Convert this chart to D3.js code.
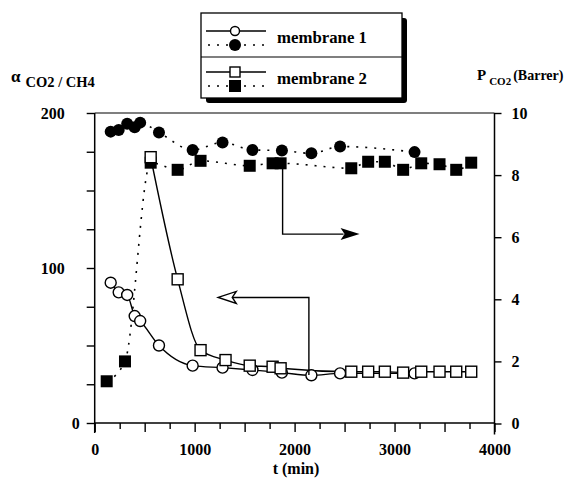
<!DOCTYPE html>
<html><head><meta charset="utf-8">
<script src="https://cdn.jsdelivr.net/npm/d3@7"></script>
<style>
body{margin:0;background:#fff;}
</style></head><body>
<svg id="chart" width="567" height="478"></svg>
<script>
// ---- data ----
const m1Time  = [160,240,325,400,455,643,980,1279,1578,1873,2168,2455,3200];
const m1Alpha = [90.5,84.3,82.6,69,65.8,50,37,35.7,34.2,32.5,30.8,32,32];
const m1Perm  = [9.40,9.45,9.65,9.54,9.69,9.37,8.81,9.05,8.81,8.79,8.70,8.92,8.74];
const m2Time  = [120,303,560,830,1059,1309,1551,1780,1860,2567,2736,2903,3086,3267,3450,3617,3767];
const m2Alpha = [null,null,171.5,92.7,47,40.6,37,36.3,35.3,33.1,33.1,33.1,32.5,33.1,33.1,33.1,33.1];
const m2Perm  = [1.36,2.0,8.4,8.17,8.46,null,8.30,8.38,8.38,8.22,8.43,8.43,8.17,8.38,8.35,8.17,8.40];
const xTickValues = [0,250,500,750,1000,1250,1500,1750,2000,2250,2500,2750,3000,3250,3500,3750,4000];
const xTickLabels = [0,1000,2000,3000,4000];
const alphaTickValues = [0,25,50,75,100,125,150,175,200];
const alphaTickLabels = [0,100,200];
const permTickValues = [0,2,4,6,8,10];
const seriesNames = ["membrane 1","membrane 2"];
// annotation arrows (data coords)
const arrowToPerm  = [[1880,8.3],[1880,6.1],[2650,6.1]];   // t, P
const arrowToAlpha = [[2143,31],[2143,81],[1236,81]];      // t, alpha

const FONT = "'Liberation Serif','Times New Roman','DejaVu Serif',serif";
const svg = d3.select("#chart");
const x  = d3.scaleLinear([0,4000],[94.7,494.5]);
const yL = d3.scaleLinear([0,200],[423,113]);
const yR = d3.scaleLinear([0,10],[423.5,113]);
const FS = 16;

// ---- axes ----
const axL = svg.append("g").attr("transform",`translate(${x(0)},0)`)
  .call(d3.axisLeft(yL).tickValues(alphaTickValues)
        .tickFormat(d=>alphaTickLabels.includes(d)?d:"").tickSize(8).tickSizeOuter(0).tickPadding(22));
const axR = svg.append("g").attr("transform",`translate(${x(4000)},0)`)
  .call(d3.axisRight(yR).tickValues(permTickValues).tickSize(7).tickSizeOuter(0).tickPadding(10));
const axB = svg.append("g").attr("transform",`translate(0,${yL(0)})`)
  .call(d3.axisBottom(x).tickValues(xTickValues)
        .tickFormat(d=>xTickLabels.includes(d)?d:"").tickSize(9).tickSizeOuter(0).tickPadding(9));
[axL,axR,axB].forEach(g=>{
  g.attr("font-family",FONT).attr("font-size",FS).attr("font-weight","bold");
  g.select(".domain").remove();
  g.selectAll("line").attr("stroke","#000").attr("stroke-width",1.4);
  g.selectAll("text").attr("fill","#000");
});
axB.selectAll(".tick").filter(d=>d%500!==0).select("line").attr("y2",6);
axB.selectAll(".tick text").attr("dy","0.85em");
axL.selectAll(".tick").filter(d=>d===0).select("text").attr("x",-15);

// frame lines
const frame = svg.append("g").attr("stroke","#000").attr("stroke-width",1.5);
frame.append("line").attr("x1",x(0)).attr("x2",x(0)).attr("y1",yL(200)).attr("y2",yL(0)+10);
frame.append("line").attr("x1",x(4000)).attr("x2",x(4000)).attr("y1",yR(10)).attr("y2",yR(0)+11);
frame.append("line").attr("x1",x(0)).attr("x2",x(4000)).attr("y1",yL(0)).attr("y2",yL(0));
frame.append("line").attr("x1",x(0)).attr("x2",x(4000)).attr("y1",yL(200)).attr("y2",yL(200)).attr("stroke-width",1.2);

// axis titles
function T(sel){ return sel.attr("font-family",FONT).attr("font-weight","bold").attr("fill","#000"); }
const tl = T(svg.append("text")).attr("x",11).attr("y",82);
tl.append("tspan").text("α").attr("font-size",17);
tl.append("tspan").attr("dx",5).attr("dy",5).text("CO2 / CH4").attr("font-size",14.5);
const tr = T(svg.append("text")).attr("x",477).attr("y",80);
tr.append("tspan").text("P").attr("font-size",15);
tr.append("tspan").attr("dx",3).attr("dy",5).text("CO2").attr("font-size",11);
tr.append("tspan").attr("dx",2).attr("dy",-5).text("(Barrer)").attr("font-size",14);
T(svg.append("text")).attr("x",296).attr("y",474).attr("text-anchor","middle").attr("font-size",FS).text("t (min)");

// ---- series ----
function pts(ts, vs){ return ts.map((t,i)=>({t, v:vs[i]})).filter(d=>d.v!=null); }
const m1A = pts(m1Time,m1Alpha), m1P = pts(m1Time,m1Perm);
const m2A = pts(m2Time,m2Alpha), m2P = pts(m2Time,m2Perm);
const lineL = d3.line().x(d=>x(d.t)).y(d=>yL(d.v)).curve(d3.curveMonotoneX);
const lineR = d3.line().x(d=>x(d.t)).y(d=>yR(d.v)).curve(d3.curveMonotoneX);

const g = svg.append("g");
g.append("path").attr("d",lineR(m1P)).attr("fill","none").attr("stroke","#000").attr("stroke-width",1.6).attr("stroke-dasharray","2,7");
g.append("path").attr("d",lineR(m2P)).attr("fill","none").attr("stroke","#000").attr("stroke-width",1.6).attr("stroke-dasharray","2,7");
g.append("path").attr("d",lineL(m1A)).attr("fill","none").attr("stroke","#000").attr("stroke-width",1.4);
g.append("path").attr("d",lineL(m2A)).attr("fill","none").attr("stroke","#000").attr("stroke-width",1.4);

g.selectAll(".fc").data(m1P).join("circle").attr("cx",d=>x(d.t)).attr("cy",d=>yR(d.v)).attr("r",6).attr("fill","#000");
g.selectAll(".fs").data(m2P).join("rect").attr("x",d=>x(d.t)-6).attr("y",d=>yR(d.v)-6).attr("width",12).attr("height",12).attr("fill","#000");
g.selectAll(".oc").data(m1A).join("circle").attr("cx",d=>x(d.t)).attr("cy",d=>yL(d.v)).attr("r",5.5)
  .attr("fill","#fff").attr("stroke","#000").attr("stroke-width",1.4);
g.selectAll(".os").data(m2A).join("rect").attr("x",d=>x(d.t)-5.5).attr("y",d=>yL(d.v)-5.5).attr("width",11).attr("height",11)
  .attr("fill","#fff").attr("stroke","#000").attr("stroke-width",1.4);

// ---- arrows ----
const a1 = arrowToPerm.map(([t,p])=>[x(t),yR(p)]);
svg.append("path").attr("d",d3.line()(a1.slice(0,2).concat([[a1[2][0]-16,a1[2][1]]]))).attr("fill","none").attr("stroke","#000").attr("stroke-width",1.4);
const e1 = a1[2];
svg.append("path").attr("d",`M${e1[0]},${e1[1]}L${e1[0]-19},${e1[1]-6}L${e1[0]-15},${e1[1]}L${e1[0]-19},${e1[1]+6}Z`).attr("fill","#000");
const a2 = arrowToAlpha.map(([t,v])=>[x(t),yL(v)]);
svg.append("path").attr("d",d3.line()(a2.slice(0,2).concat([[a2[2][0]+14,a2[2][1]]]))).attr("fill","none").attr("stroke","#000").attr("stroke-width",1.4);
const e2 = a2[2];
svg.append("path").attr("d",`M${e2[0]},${e2[1]}L${e2[0]+18},${e2[1]-6}L${e2[0]+14},${e2[1]}L${e2[0]+18},${e2[1]+6}Z`)
  .attr("fill","#fff").attr("stroke","#000").attr("stroke-width",1.4);

// ---- legend ----
const lg = svg.append("g");
lg.append("rect").attr("x",206).attr("y",18).attr("width",201).attr("height",85).attr("fill","#000").attr("rx",3);
lg.append("rect").attr("x",201).attr("y",13).attr("width",201).attr("height",85).attr("fill","#fff").attr("stroke","#000").attr("stroke-width",1.3);
lg.append("line").attr("x1",201).attr("x2",402).attr("y1",57).attr("y2",57).attr("stroke","#000").attr("stroke-width",1.2);
seriesNames.forEach((name,i)=>{
  const oy = i*41;
  lg.append("line").attr("x1",206).attr("x2",266).attr("y1",31+oy).attr("y2",31+oy).attr("stroke","#000").attr("stroke-width",1.4);
  lg.append("line").attr("x1",208).attr("x2",266).attr("y1",45+oy).attr("y2",45+oy).attr("stroke","#000").attr("stroke-width",1.6).attr("stroke-dasharray","2,7");
  if(i===0){
    lg.append("circle").attr("cx",235).attr("cy",31).attr("r",4.5).attr("fill","#fff").attr("stroke","#000").attr("stroke-width",1.4);
    lg.append("circle").attr("cx",235).attr("cy",45).attr("r",6).attr("fill","#000");
  } else {
    lg.append("rect").attr("x",230).attr("y",31+oy-5).attr("width",10).attr("height",10).attr("fill","#fff").attr("stroke","#000").attr("stroke-width",1.4);
    lg.append("rect").attr("x",229).attr("y",45+oy-6).attr("width",12).attr("height",12).attr("fill","#000");
  }
  T(lg.append("text")).attr("x",277).attr("y",43+oy).attr("font-size",16.8).text(name);
});
</script>
</body></html>
